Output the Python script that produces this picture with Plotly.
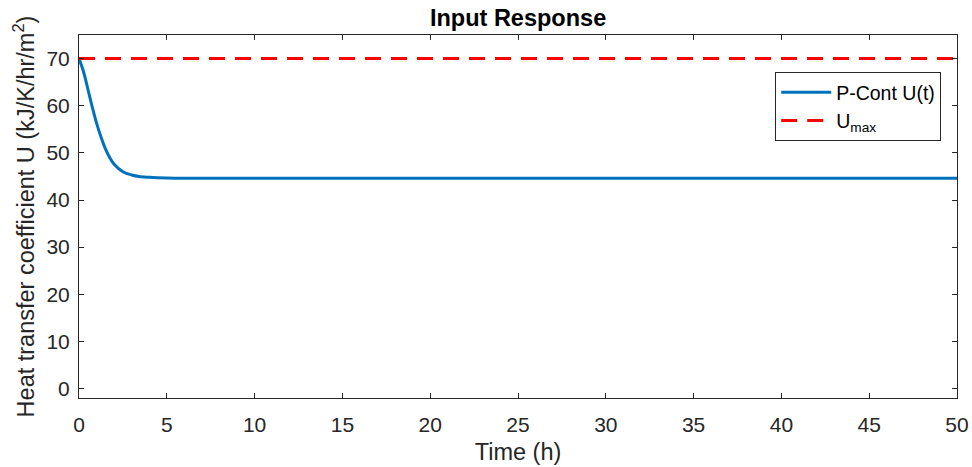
import plotly.graph_objects as go

# Data
time_h = [0, 0.25, 0.5, 0.75, 1.0, 1.25, 1.5, 1.75, 2.0, 2.5, 3.0, 3.5, 4.0, 5.0, 6.0, 8.0, 10, 20, 30, 40, 50]
u_pcont = [70, 67.3, 63.6, 59.8, 56.3, 53.4, 50.9, 49.0, 47.6, 46.0, 45.3, 44.95, 44.8, 44.65, 44.6, 44.6, 44.6, 44.6, 44.6, 44.6, 44.6]
u_max_t = [0, 50]
u_max = [70, 70]

x_ticks = list(range(0, 51, 5))
y_ticks = list(range(0, 71, 10))

FONT = "Arial, Liberation Sans, Helvetica, sans-serif"
AX = "#262626"

fig = go.Figure()
fig.add_trace(go.Scatter(x=time_h, y=u_pcont, mode="lines", name="P-Cont U(t)",
                         line=dict(color="#0072BD", width=3, shape="spline")))
fig.add_trace(go.Scatter(x=u_max_t, y=u_max, mode="lines", name="U<sub>max</sub>",
                         line=dict(color="#FF0000", width=3, dash="16px,10px")))

axis_common = dict(showgrid=False, zeroline=False, showline=True, linecolor=AX, linewidth=1,
                   mirror="ticks", ticks="inside", ticklen=5, tickcolor=AX, automargin=False,
                   tickfont=dict(family=FONT, size=21, color=AX))

fig.update_xaxes(range=[0, 50], tickvals=x_ticks, ticklabelstandoff=8,
                 title=dict(text="Time (h)", font=dict(family=FONT, size=23.5, color=AX), standoff=8),
                 **axis_common)
fig.update_yaxes(range=[-2, 75], tickvals=y_ticks, ticklabelstandoff=4,
                 title=dict(text="Heat transfer coefficient U (kJ/K/hr/m<sup>2</sup>)",
                            font=dict(family=FONT, size=23.5, color=AX), standoff=5),
                 **axis_common)

fig.update_layout(
    width=972, height=467,
    margin=dict(l=79, r=15, t=35, b=69),
    paper_bgcolor="white", plot_bgcolor="white",
    title=dict(text="<b>Input Response</b>", x=0.533, xanchor="center", y=0.963, yanchor="middle",
               font=dict(family=FONT, size=23.5, color="black")),
    showlegend=True,
    legend=dict(x=0.982, xanchor="right", y=0.898, yanchor="top",
                bgcolor="white", bordercolor=AX, borderwidth=1,
                font=dict(family=FONT, size=19.5, color="black"),
                itemwidth=50, tracegroupgap=0),
    font=dict(family=FONT),
)

fig.write_html("out.html", config={"displayModeBar": False},
               post_script="document.body.style.margin='0';document.body.style.overflow='hidden';")
